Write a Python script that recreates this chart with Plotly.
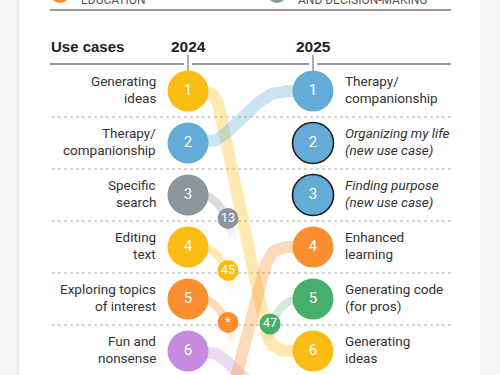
import numpy as np
import plotly.graph_objects as go

# ---------------- data ----------------
left_line1 = ["Generating", "Therapy/", "Specific", "Editing", "Exploring topics", "Fun and"]
left_line2 = ["ideas", "companionship", "search", "text", "of interest", "nonsense"]
right_line1 = ["Therapy/", "Organizing my life", "Finding purpose", "Enhanced", "Generating code", "Generating"]
right_line2 = ["companionship", "(new use case)", "(new use case)", "learning", "(for pros)", "ideas"]
right_new = [False, True, True, False, False, False]
ranks = [1, 2, 3, 4, 5, 6]
cat_2024 = ["yellow", "blue", "gray", "yellow", "orange", "purple"]
cat_2025 = ["blue", "blue", "blue", "orange", "green", "yellow"]

# moves between the two years: (rank 2024, rank 2025, colour key)
move_from = [1, 2, 6, 8]
move_to = [6, 1, 7, 4]
move_cat = ["yellow", "blue", "purple", "orange"]
# use cases that fell out of the top 6 in 2025
drop_from = [3, 4, 5]
drop_label = ["13", "45", "*"]
drop_cat = ["gray", "yellow", "orange"]
# use cases that rose into the top 6 in 2025
rise_to = [5]
rise_label = ["47"]
rise_cat = ["green"]

COL = {"yellow": "#FBBC14", "blue": "#64ACD6", "gray": "#8A959C",
       "orange": "#F98F2E", "purple": "#C68BDF", "green": "#47AF6B"}

NARROW = "Roboto, Liberation Sans Narrow, sans-serif"
BOLD = "Liberation Sans, Arial, sans-serif"

# layout geometry (pixels per unit, used for axis ranges and corner rounding)
SX, SY = 125.0, 52.0
X_RANGE = [-188 / SX, (500 - 188) / SX]
Y_RANGE = [1 + (375 - 91) / SY, 1 - 91 / SY]


def rgba(h, a):
    h = h.lstrip("#")
    return "rgba(%d,%d,%d,%.3f)" % (int(h[0:2], 16), int(h[2:4], 16), int(h[4:6], 16), a)


def rounded(pts, rad=16, n=12):
    P = [np.array([x * SX, y * SY]) for x, y in pts]
    out = [P[0]]
    for i in range(1, len(P) - 1):
        a, b, c = P[i - 1], P[i], P[i + 1]
        d1, d2 = np.linalg.norm(b - a), np.linalg.norm(c - b)
        rr = min(rad, d1 / 2, d2 / 2)
        p1 = b + (a - b) / d1 * rr
        p2 = b + (c - b) / d2 * rr
        for t in np.linspace(0, 1, n):
            out.append((1 - t) ** 2 * p1 + 2 * (1 - t) * t * b + t ** 2 * p2)
    out.append(P[-1])
    xs = [p[0] / SX for p in out]
    ys = [p[1] / SY for p in out]
    return xs, ys


fig = go.Figure()


def add_line(xs, ys, color, width):
    fig.add_trace(go.Scatter(x=xs, y=ys, mode="lines", line=dict(color=color, width=width),
                             hoverinfo="skip", showlegend=False, cliponaxis=True))


def add_fade(x0, y0, x1, y1, hexc, a0, width, steps=6):
    for k in range(steps):
        t0, t1 = k / steps, (k + 1) / steps
        a = a0 * (1 - (k + 0.5) / steps)
        add_line([x0 + (x1 - x0) * t0, x0 + (x1 - x0) * t1],
                 [y0 + (y1 - y0) * t0, y0 + (y1 - y0) * t1], rgba(hexc, a), width)


H0, H1 = 0.22, 0.66
# main moves
for r0, r1, c in zip(move_from, move_to, move_cat):
    xs, ys = rounded([(0, r0), (H0, r0), (H1, r1), (1, r1)], rad=18)
    add_line(xs, ys, rgba(COL[c], 0.33), 12)

# drops
DX, DY = 0.32, 0.45
for r0, c in zip(drop_from, drop_cat):
    xs, ys = rounded([(0, r0), (0.19, r0), (DX, r0 + DY)], rad=14)
    add_line(xs, ys, rgba(COL[c], 0.33), 8)
    add_fade(DX, r0 + DY, DX + 0.045, r0 + 0.88, COL[c], 0.33, 8)

# rises
RX, RY = 0.656, 0.48
for r1, c in zip(rise_to, rise_cat):
    xs, ys = rounded([(1, r1), (0.79, r1), (RX, r1 + RY)], rad=14)
    add_line(xs, ys, rgba(COL[c], 0.25), 8)
    add_fade(RX, r1 + RY, RX - 0.025, r1 + 0.9, COL[c], 0.25, 8)

# 2024 circles
fig.add_trace(go.Scatter(
    x=[0] * len(ranks), y=ranks, mode="markers+text",
    marker=dict(size=41, color=[COL[c] for c in cat_2024], line=dict(width=0)),
    text=[str(r) for r in ranks], textposition="middle center",
    textfont=dict(color="white", size=15, family=NARROW),
    hoverinfo="skip", showlegend=False))
# 2025 circles
fig.add_trace(go.Scatter(
    x=[1] * len(ranks), y=ranks, mode="markers+text",
    marker=dict(size=41, color=[COL[c] for c in cat_2025],
                line=dict(width=[1.6 if n else 0 for n in right_new], color="#1a1a1a")),
    text=[str(r) for r in ranks], textposition="middle center",
    textfont=dict(color="white", size=15, family=NARROW),
    hoverinfo="skip", showlegend=False))
# small rank circles
fig.add_trace(go.Scatter(
    x=[DX] * len(drop_from) + [RX] * len(rise_to),
    y=[r + DY for r in drop_from] + [r + RY for r in rise_to],
    mode="markers+text",
    marker=dict(size=21, color=[COL[c] for c in drop_cat + rise_cat], line=dict(width=0)),
    text=drop_label + rise_label, textposition="middle center",
    textfont=dict(color="white", size=12.5, family=NARROW),
    hoverinfo="skip", showlegend=False))

ann = []
LOFF = 0.155
FS = 13.5
for r, l1, l2 in zip(ranks, left_line1, left_line2):
    for txt, dy in ((l1, -LOFF), (l2, LOFF)):
        ann.append(dict(x=-0.24, y=r + dy - 0.03, xref="x", yref="y", text=txt, showarrow=False,
                        xanchor="right", yanchor="middle",
                        font=dict(size=FS, color="#333333", family=NARROW)))
for r, l1, l2, new in zip(ranks, right_line1, right_line2, right_new):
    for txt, dy in ((l1, -LOFF), (l2, LOFF)):
        t = "<i>%s</i>" % txt if new else txt
        ann.append(dict(x=1.24, y=r + dy - 0.03, xref="x", yref="y", text=t, showarrow=False,
                        xanchor="left", yanchor="middle",
                        font=dict(size=FS, color="#333333", family=NARROW)))

hy = 1 + (46 - 91) / SY
ann.append(dict(x=(49 - 188) / SX, y=hy, xref="x", yref="y", text="<b>Use cases</b>", showarrow=False,
                xanchor="left", yanchor="middle", font=dict(size=15, color="#222222", family=BOLD)))
ann.append(dict(x=0, y=hy, xref="x", yref="y", text="<b>2024</b>", showarrow=False,
                xanchor="center", yanchor="middle", font=dict(size=15.5, color="#222222", family=BOLD)))
ann.append(dict(x=1, y=hy, xref="x", yref="y", text="<b>2025</b>", showarrow=False,
                xanchor="center", yanchor="middle", font=dict(size=15.5, color="#222222", family=BOLD)))

# cut-off legend at top (only the bottom of the last line shows, as in the reference)
ann.append(dict(x=79 / 500, y=1 - 9 / 375, xref="paper", yref="paper", text="LEARNING AND<br>EDUCATION",
                showarrow=False, xanchor="left", yanchor="bottom", align="left",
                font=dict(size=12, color="#555555", family=NARROW)))
ann.append(dict(x=296 / 500, y=1 - 9 / 375, xref="paper", yref="paper",
                text="RESEARCH, ANALYSIS,<br>AND DECISION-MAKING",
                showarrow=False, xanchor="left", yanchor="bottom", align="left",
                font=dict(size=12, color="#555555", family=NARROW)))

shapes = []
# card background
shapes.append(dict(type="rect", xref="paper", yref="paper", x0=16 / 500, x1=19 / 500, y0=0, y1=1,
                   fillcolor="#ececec", line=dict(width=0), layer="below"))
shapes.append(dict(type="rect", xref="paper", yref="paper", x0=19 / 500, x1=480 / 500, y0=0, y1=1,
                   fillcolor="white", line=dict(width=0), layer="below"))
# legend circles
for cx, c in ((60, "orange"), (277, "gray")):
    shapes.append(dict(type="circle", xref="paper", yref="paper",
                       x0=(cx - 10) / 500, x1=(cx + 10) / 500,
                       y0=1 - (-7 + 10) / 375, y1=1 - (-7 - 10) / 375,
                       fillcolor=COL[c], line=dict(width=0)))
xl, xr = (50 - 188) / SX, (451 - 188) / SX
# top rule
shapes.append(dict(type="line", xref="x", yref="y", x0=xl, x1=xr, y0=1 + (10 - 91) / SY, y1=1 + (10 - 91) / SY,
                   line=dict(color="#777777", width=1.5)))
# header rule with gaps around ticks
ry = 1 + (64 - 91) / SY
g = 4 / SX
for a, b in ((xl, 0 - g), (0 + g, 1 - g), (1 + g, xr)):
    shapes.append(dict(type="line", xref="x", yref="y", x0=a, x1=b, y0=ry, y1=ry,
                       line=dict(color="#777777", width=1.5)))
for xv in (0, 1):
    shapes.append(dict(type="line", xref="x", yref="y", x0=xv, x1=xv,
                       y0=1 + (55 - 91) / SY, y1=1 + (71 - 91) / SY,
                       line=dict(color="#777777", width=1.2), layer="below"))
# dotted row separators
for r in ranks[:-1]:
    shapes.append(dict(type="line", xref="x", yref="y", x0=(52 - 188) / SX, x1=xr, y0=r + 0.5, y1=r + 0.5,
                       line=dict(color="#a8a8a8", width=1, dash="dot"), layer="below"))

fig.update_layout(
    width=500, height=375, margin=dict(l=0, r=0, t=0, b=0),
    paper_bgcolor="#f5f5f5", plot_bgcolor="rgba(0,0,0,0)",
    xaxis=dict(range=X_RANGE, visible=False, fixedrange=True),
    yaxis=dict(range=Y_RANGE, visible=False, fixedrange=True),
    annotations=ann, shapes=shapes, showlegend=False,
    hovermode=False,
)
fig.write_html("out.html", config={"displayModeBar": False, "staticPlot": True},
               post_script="document.body.style.margin='0';document.body.style.padding='0';")
